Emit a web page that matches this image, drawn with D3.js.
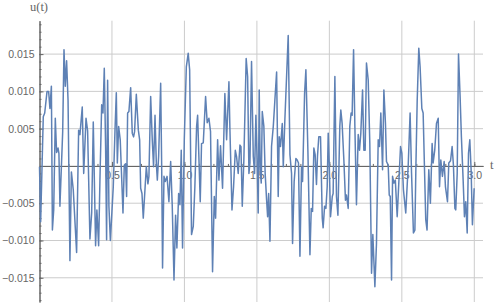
<!DOCTYPE html>
<html>
<head>
<meta charset="utf-8">
<script src="https://cdn.jsdelivr.net/npm/d3@7"></script>
<style>
  body { margin: 0; background: #fff; }
  .tick text { font-family: "Liberation Sans", "DejaVu Sans", sans-serif; font-size: 10.5px; }
  .axlab { font-family: "Liberation Serif", "DejaVu Serif", serif; font-size: 12.5px; fill: #666; }
</style>
</head>
<body>
<div id="chart"></div>
<script>
// sample points (t, u)
const tVals = [
  0.000, 0.008, 0.026, 0.036, 0.052, 0.063, 0.072, 0.082, 0.089, 0.098,
  0.109, 0.118, 0.128, 0.134, 0.141, 0.160, 0.169, 0.178, 0.187, 0.197,
  0.210, 0.220, 0.233, 0.256, 0.270, 0.279, 0.295, 0.305, 0.321, 0.332,
  0.348, 0.360, 0.371, 0.387, 0.396, 0.408, 0.417, 0.429, 0.438, 0.447,
  0.456, 0.463, 0.470, 0.479, 0.489, 0.509, 0.521, 0.530, 0.537, 0.546,
  0.557, 0.576, 0.585, 0.594, 0.601, 0.608, 0.617, 0.629, 0.640, 0.649,
  0.656, 0.668, 0.682, 0.691, 0.698, 0.707, 0.716, 0.737, 0.748, 0.755,
  0.767, 0.778, 0.787, 0.797, 0.806, 0.813, 0.822, 0.836, 0.843, 0.849,
  0.859, 0.868, 0.880, 0.893, 0.905, 0.916, 0.928, 0.939, 0.948, 0.960,
  0.969, 0.978, 0.987, 0.999, 1.013, 1.026, 1.036, 1.049, 1.061, 1.072,
  1.084, 1.091, 1.109, 1.118, 1.130, 1.146, 1.157, 1.169, 1.180, 1.194,
  1.206, 1.215, 1.229, 1.238, 1.249, 1.263, 1.279, 1.291, 1.307, 1.314,
  1.328, 1.339, 1.351, 1.360, 1.371, 1.383, 1.390, 1.399, 1.410, 1.426,
  1.436, 1.445, 1.452, 1.463, 1.475, 1.484, 1.493, 1.502, 1.509, 1.516,
  1.523, 1.530, 1.537, 1.548, 1.557, 1.567, 1.574, 1.581, 1.590, 1.601,
  1.613, 1.624, 1.636, 1.647, 1.654, 1.663, 1.675, 1.682, 1.693, 1.716,
  1.728, 1.739, 1.746, 1.757, 1.769, 1.778, 1.787, 1.797, 1.808, 1.815,
  1.829, 1.838, 1.852, 1.866, 1.875, 1.884, 1.893, 1.902, 1.911, 1.918,
  1.927, 1.939, 1.951, 1.957, 1.967, 1.976, 1.985, 1.992, 1.999, 2.008,
  2.020, 2.026, 2.038, 2.049, 2.059, 2.072, 2.079, 2.088, 2.100, 2.111,
  2.118, 2.130, 2.141, 2.150, 2.157, 2.167, 2.176, 2.187, 2.199, 2.208,
  2.217, 2.229, 2.238, 2.247, 2.256, 2.268, 2.279, 2.291, 2.300, 2.314,
  2.325, 2.337, 2.346, 2.355, 2.367, 2.376, 2.387, 2.394, 2.406, 2.413,
  2.420, 2.429, 2.436, 2.445, 2.455, 2.468, 2.480, 2.491, 2.500, 2.511,
  2.527, 2.544, 2.557, 2.567, 2.580, 2.590, 2.597, 2.606, 2.617, 2.626,
  2.638, 2.647, 2.656, 2.665, 2.674, 2.686, 2.697, 2.709, 2.716, 2.727,
  2.739, 2.751, 2.760, 2.769, 2.780, 2.792, 2.801, 2.815, 2.824, 2.836,
  2.847, 2.856, 2.866, 2.872, 2.882, 2.891, 2.902, 2.911, 2.923, 2.932,
  2.941, 2.951, 2.960, 2.969, 2.978, 2.987, 2.999
];
const uVals = [
  -0.0001, -0.0075, 0.0066, 0.0071, 0.0100, 0.0100, 0.0077, 0.0107, -0.0086, -0.0059,
  0.0064, 0.0018, 0.0024, 0.0017, -0.0054, 0.0046, 0.0156, 0.0107, 0.0141, 0.0088,
  -0.0127, -0.0008, -0.0032, -0.0116, 0.0048, 0.0042, 0.0079, -0.0010, 0.0064, 0.0047,
  -0.0098, -0.0063, 0.0059, -0.0107, -0.0059, -0.0107, -0.0019, 0.0082, 0.0071, 0.0131,
  0.0026, -0.0099, 0.0115, -0.0054, -0.0100, -0.0028, 0.0048, 0.0098, 0.0004, 0.0053,
  0.0035, -0.0063, 0.0001, 0.0003, -0.0041, 0.0071, 0.0073, 0.0105, 0.0044, 0.0039,
  0.0046, 0.0096, 0.0048, 0.0035, -0.0030, -0.0037, -0.0070, -0.0001, -0.0024, -0.0014,
  0.0093, 0.0035, -0.0001, 0.0068, 0.0004, -0.0019, 0.0013, 0.0111, -0.0001, -0.0137,
  -0.0014, -0.0021, -0.0014, -0.0048, 0.0006, -0.0054, -0.0153, -0.0066, -0.0110, -0.0037,
  -0.0052, 0.0021, -0.0110, 0.0035, 0.0133, 0.0151, 0.0129, -0.0092, -0.0081, -0.0028,
  0.0053, 0.0068, -0.0048, 0.0030, 0.0031, 0.0093, 0.0058, 0.0064, 0.0046, -0.0142,
  -0.0041, -0.0070, 0.0035, -0.0019, 0.0027, -0.0030, 0.0097, 0.0035, 0.0113, 0.0048,
  -0.0059, -0.0028, 0.0021, 0.0012, -0.0010, 0.0028, 0.0026, -0.0054, 0.0008, 0.0144,
  0.0120, -0.0010, 0.0004, 0.0140, 0.0013, -0.0010, 0.0068, 0.0004, -0.0063, 0.0102,
  -0.0005, -0.0023, 0.0073, 0.0053, -0.0010, -0.0046, -0.0068, -0.0037, -0.0101, 0.0026,
  0.0053, 0.0088, 0.0126, -0.0041, 0.0039, 0.0026, 0.0057, -0.0001, 0.0062, 0.0175,
  0.0015, -0.0010, -0.0104, -0.0021, 0.0010, 0.0008, 0.0004, -0.0121, -0.0001, -0.0021,
  0.0097, 0.0129, 0.0019, -0.0119, -0.0057, -0.0061, 0.0024, 0.0015, -0.0025, 0.0013,
  0.0039, 0.0039, -0.0070, -0.0083, -0.0054, -0.0057, -0.0028, 0.0044, 0.0004, -0.0068,
  -0.0041, -0.0037, 0.0120, -0.0041, -0.0066, 0.0053, 0.0075, 0.0057, 0.0008, -0.0046,
  -0.0039, -0.0057, 0.0053, 0.0071, 0.0068, 0.0156, 0.0053, -0.0052, 0.0042, 0.0021,
  0.0044, 0.0102, 0.0021, 0.0021, 0.0138, 0.0115, 0.0030, -0.0144, -0.0092, -0.0162,
  -0.0104, 0.0035, 0.0026, 0.0071, -0.0005, 0.0102, 0.0057, 0.0006, 0.0001, -0.0039,
  -0.0041, -0.0153, -0.0014, -0.0023, -0.0019, -0.0068, -0.0019, 0.0026, 0.0017, -0.0032,
  -0.0063, 0.0001, 0.0071, -0.0010, -0.0090, -0.0086, -0.0001, 0.0088, 0.0158, 0.0133,
  0.0077, 0.0071, -0.0001, -0.0072, -0.0086, -0.0005, -0.0050, 0.0030, 0.0004, 0.0021,
  0.0057, 0.0064, -0.0028, 0.0008, -0.0014, 0.0006, -0.0028, -0.0048, 0.0004, 0.0007,
  0.0026, 0.0001, -0.0057, -0.0059, -0.0010, 0.0150, 0.0093, 0.0039, -0.0019, -0.0068,
  -0.0048, -0.0090, 0.0017, 0.0035, -0.0005, -0.0079, -0.0030
];
const xTicks = [0.5, 1.0, 1.5, 2.0, 2.5, 3.0];
const yTicks = [-0.015, -0.010, -0.005, 0.005, 0.010, 0.015];
const xMinor = d3.range(1, 31).map(i => i / 10);
const yMinor = d3.range(-18, 20).map(i => i / 1000);

const width = 496;
const height = 303;

const svg = d3.select("div#chart").append("svg")
    .attr("width", width)
    .attr("height", height);

// scales
const x = d3.scaleLinear().domain([0, 3.06]).range([39.5, 483]);
const y = d3.scaleLinear().domain([-0.01825, 0.01948]).range([302, 20.7]);

// grid
svg.append("g").selectAll("line").data(xTicks).join("line")
    .attr("x1", d => x(d)).attr("x2", d => x(d))
    .attr("y1", y.range()[0]).attr("y2", y.range()[1])
    .attr("stroke", "#cccccc").attr("stroke-width", 1);
svg.append("g").selectAll("line").data(yTicks).join("line")
    .attr("y1", d => y(d)).attr("y2", d => y(d))
    .attr("x1", x.range()[0]).attr("x2", x.range()[1])
    .attr("stroke", "#cccccc").attr("stroke-width", 1);

// axes (ticks pointing inward)
const xaxis = d3.axisBottom(x).tickValues(xTicks).tickFormat(d3.format(".1f"))
    .tickSizeInner(-4).tickSizeOuter(0).tickPadding(6);
const xaxisMinor = d3.axisBottom(x).tickValues(xMinor).tickFormat("")
    .tickSizeInner(-2).tickSizeOuter(0);
const yaxis = d3.axisLeft(y).tickValues(yTicks).tickFormat(d3.format(".3f"))
    .tickSizeInner(-4).tickSizeOuter(0).tickPadding(5);
const yaxisMinor = d3.axisLeft(y).tickValues(yMinor).tickFormat("")
    .tickSizeInner(-2).tickSizeOuter(0);

[xaxisMinor, xaxis].forEach(a => {
  svg.append("g").attr("transform", "translate(0," + y(0) + ")").call(a)
    .call(g => g.selectAll("line, path").attr("stroke", "#666"));
});
[yaxisMinor, yaxis].forEach(a => {
  svg.append("g").attr("transform", "translate(" + x(0) + ",0)").call(a)
    .call(g => g.selectAll("line, path").attr("stroke", "#666"));
});
svg.selectAll(".tick text").attr("fill", "#666");

// line
const pts = tVals.map((t, i) => [t, uVals[i]]);
svg.append("path")
    .datum(pts)
    .attr("fill", "none")
    .attr("stroke", "#5e81b5")
    .attr("stroke-width", 1.5)
    .attr("stroke-linejoin", "round")
    .attr("d", d3.line().x(d => x(d[0])).y(d => y(d[1])));

// axis labels
svg.append("text").attr("class", "axlab")
    .attr("x", 39).attr("y", 11).attr("text-anchor", "middle").text("u(t)");
svg.append("text").attr("class", "axlab")
    .attr("x", 490).attr("y", 169).text("t");
</script>
</body>
</html>
